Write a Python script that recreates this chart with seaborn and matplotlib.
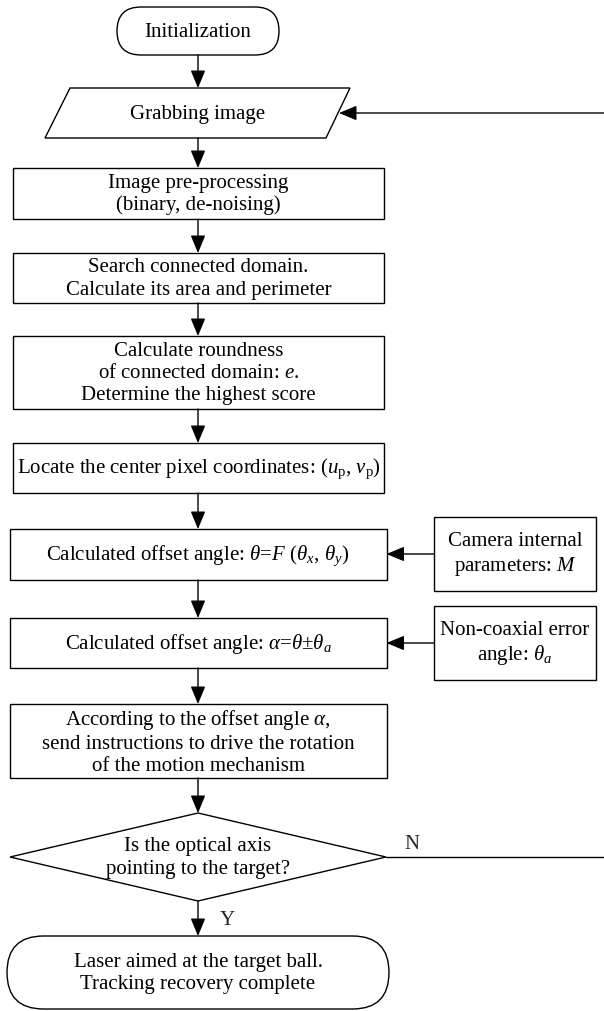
import matplotlib
matplotlib.use("Agg")
import matplotlib.pyplot as plt
import seaborn as sns
from matplotlib.patches import FancyBboxPatch, Polygon, Rectangle, FancyArrowPatch

# node texts (main column, top to bottom)
start_label = "Initialization"
grab_label = "Grabbing image"
step_labels = [
    "Image pre-processing\n(binary, de-noising)",
    "Search connected domain.\nCalculate its area and perimeter",
    "Calculate roundness\nof connected domain: $e$.\nDetermine the highest score",
    r"Locate the center pixel coordinates: ($u_\mathrm{p}$, $v_\mathrm{p}$)",
    r"Calculated offset angle: $\theta$=$F$ ($\theta_x$, $\theta_y$)",
    r"Calculated offset angle: $\alpha$=$\theta$±$\theta_a$",
    "According to the offset angle $\\alpha$,\nsend instructions to drive the rotation\nof the motion mechanism",
]
decision_label = "Is the optical axis\npointing to the target?"
end_label = "Laser aimed at the target ball.\nTracking recovery complete"
side_labels = ["Camera internal\nparameters: $M$", "Non-coaxial error\nangle: $\\theta_a$"]
yes_label, no_label = "Y", "N"

sns.set_theme(style="white")
plt.rcParams["font.family"] = ["Liberation Serif", "DejaVu Serif"]
plt.rcParams["mathtext.fontset"] = "custom"
plt.rcParams["mathtext.rm"] = "Liberation Serif"
plt.rcParams["mathtext.it"] = "Liberation Serif:italic"

FS = 15
LW = 1.0
CX = 198

fig = plt.figure(figsize=(6.04, 10.12), dpi=100)
ax = fig.add_axes([0, 0, 1, 1])
ax.set_xlim(0, 604)
ax.set_ylim(1012, 0)
ax.axis("off")


def label(x, y, s):
    ax.text(x, y, s, ha="center", va="center", fontsize=FS, color="black",
            linespacing=1.22)


def box(x0, x1, y0, y1, s):
    ax.add_patch(Rectangle((x0, y0), x1 - x0, y1 - y0, fill=False,
                           ec="black", lw=LW))
    label((x0 + x1) / 2, (y0 + y1) / 2, s)


def terminal(x0, x1, y0, y1, s):
    h = y1 - y0
    ax.add_patch(FancyBboxPatch((x0, y0), x1 - x0, h,
                                boxstyle=f"round,pad=0,rounding_size={h / 2}",
                                fill=False, ec="black", lw=LW))
    label((x0 + x1) / 2, (y0 + y1) / 2, s)


def arrow(p0, p1):
    ax.add_patch(FancyArrowPatch(p0, p1, arrowstyle="-|>,head_length=0.6,head_width=0.25",
                                 mutation_scale=18, color="black", lw=LW,
                                 shrinkA=0, shrinkB=0))


# start
terminal(117, 279, 8, 56, start_label)
arrow((CX, 56), (CX, 89))

# input parallelogram
ax.add_patch(Polygon([(70, 89), (350, 89), (326, 139), (45, 139)], closed=True,
                     fill=False, ec="black", lw=LW))
label(CX, 114, grab_label)
arrow((CX, 139), (CX, 169))

# main process steps
step_rows = [(169, 220), (254, 304), (337, 410), (444, 494),
             (530, 581), (619, 669), (705, 779)]
step_x = [(13, 384)] * 4 + [(9.5, 386.5)] * 3
for i, (s, (y0, y1), (x0, x1)) in enumerate(zip(step_labels, step_rows, step_x)):
    box(x0, x1, y0, y1, s)
    if i + 1 < len(step_rows):
        arrow((CX, y1), (CX, step_rows[i + 1][0]))

# side inputs
box(434, 596, 518, 592, side_labels[0])
arrow((434, 555), (386.5, 555))
box(434, 596, 607, 681, side_labels[1])
arrow((434, 644), (386.5, 644))

# decision
arrow((CX, 779), (CX, 814))
ax.add_patch(Polygon([(CX, 814), (386, 858), (CX, 902), (10, 858)], closed=True,
                     fill=False, ec="black", lw=LW))
label(CX, 858, decision_label)
ax.plot([386, 604], [858, 858], color="black", lw=LW)
ax.text(412, 845, no_label, ha="center", va="center", fontsize=FS)

# loop back into the grabbing step
arrow((604, 114), (339, 114))

# end
arrow((CX, 902), (CX, 937))
ax.text(227, 921, yes_label, ha="center", va="center", fontsize=FS)
terminal(7, 389, 937, 1010, end_label)

fig.savefig("out.png", dpi=100)
